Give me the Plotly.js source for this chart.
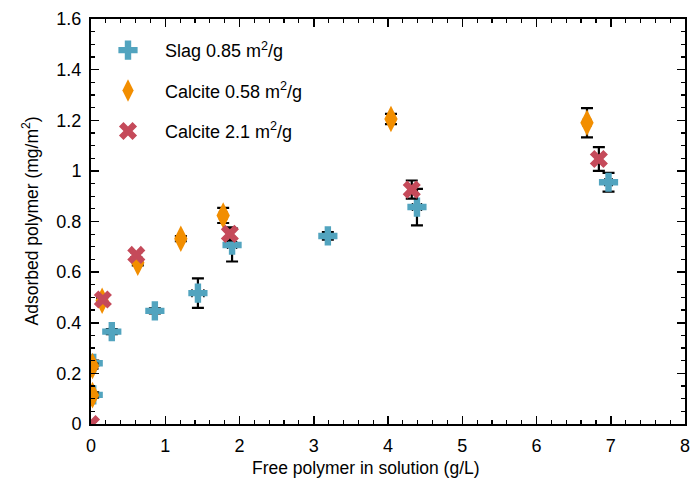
<!DOCTYPE html>
<html><head><meta charset="utf-8">
<script src="https://cdn.plot.ly/plotly-3.0.1.min.js"></script>
<style>html,body{margin:0;padding:0;background:#fff}#chart{width:690px;height:487px}</style>
</head><body><div id="chart"></div>
<script>
// Slag 0.85 m2/g
const slagX = [0.03, 0.03, 0.28, 0.86, 1.44, 1.90, 3.19, 4.39, 6.97];
const slagY = [0.24, 0.115, 0.365, 0.447, 0.517, 0.707, 0.743, 0.857, 0.955];
const slagYErr = [0.01, 0.01, 0.01, 0.01, 0.058, 0.065, 0.015, 0.072, 0.037];
const slagXErr = [0.03, 0.03, 0.03, 0.03, 0.08, 0.06, 0.06, 0.06, 0.05];
// Calcite 0.58 m2/g
const cal58X = [0.02, 0.02, 0.15, 0.63, 1.21, 1.78, 4.04, 6.68];
const cal58Y = [0.229, 0.114, 0.487, 0.637, 0.732, 0.824, 1.205, 1.19];
const cal58YErr = [0.01, 0.01, 0.01, 0.01, 0.01, 0.03, 0.02, 0.058];
const cal58XErr = [0.02, 0.02, 0.02, 0.02, 0.02, 0.05, 0.03, 0.05];
// Calcite 2.1 m2/g
const cal21X = [0.0, 0.16, 0.61, 1.87, 4.32, 6.84];
const cal21Y = [0.0, 0.492, 0.668, 0.751, 0.926, 1.047];
const cal21YErr = [0.01, 0.01, 0.01, 0.026, 0.036, 0.047];
const cal21XErr = [0.02, 0.02, 0.02, 0.03, 0.03, 0.03];
const names = ['Slag 0.85 m<sup>2</sup>/g', 'Calcite 0.58 m<sup>2</sup>/g', 'Calcite 2.1 m<sup>2</sup>/g'];
const xTitle = 'Free polymer in solution (g/L)';
const yTitle = 'Adsorbed polymer (mg/m<sup>2</sup>)';

function tr(x, y, ex, ey, name, sym, color, size, grp) {
  return {
    type: 'scatter', mode: 'markers', x: x, y: y, name: name, legendgroup: grp,
    marker: {symbol: sym, color: color, size: size, line: {width: 0}},
    error_y: {type: 'data', array: ey, visible: true, color: '#000', thickness: 2.2, width: 6},
    error_x: {type: 'data', array: ex, visible: true, color: '#000', thickness: 1.5, width: 4},
    cliponaxis: true
  };
}
const data = [
  tr(slagX, slagY, slagXErr, slagYErr, names[0], 'cross', '#52a4bf', 16, 'a'),
  tr(cal58X, cal58Y, cal58XErr, cal58YErr, names[1], 'diamond-tall', '#f28e00', 19, 'b'),
  tr(cal21X, cal21Y, cal21XErr, cal21YErr, names[2], 'x', '#c54a5a', 16, 'c')
];
const FONT = 'Liberation Sans, Arial, sans-serif';
const axisCommon = {
  showline: true, linecolor: '#000', linewidth: 2, mirror: 'ticks',
  ticks: 'inside', ticklen: 8, tickwidth: 1.5, tickcolor: '#000',
  showgrid: false, zeroline: false, ticklabelstandoff: 4, ticklabeloverflow: 'allow',
  tickfont: {family: FONT, size: 18, color: '#000'}
};
const layout = {
  width: 690, height: 487,
  margin: {l: 91, r: 5, t: 19, b: 63},
  paper_bgcolor: '#fff', plot_bgcolor: '#fff',
  font: {family: FONT, size: 17, color: '#000'},
  showlegend: true,
  legend: {x: 0.0, y: 0.968, xanchor: 'left', yanchor: 'top', bgcolor: 'rgba(0,0,0,0)',
           font: {size: 18}, tracegroupgap: 14, itemwidth: 64},
  xaxis: Object.assign({}, axisCommon, {
    range: [0, 8], dtick: 1, tick0: 0,
    minor: {dtick: 0.2, ticks: 'inside', ticklen: 4, tickwidth: 1.2, tickcolor: '#000'}
  }),
  yaxis: Object.assign({}, axisCommon, {
    range: [0, 1.6], dtick: 0.2, tick0: 0,
    minor: {dtick: 0.05, ticks: 'inside', ticklen: 4, tickwidth: 1.2, tickcolor: '#000'}
  }),
  annotations: [
    {text: xTitle, xref: 'paper', yref: 'paper', x: (366 - 91) / 594, y: -0.108, yanchor: 'middle',
     xanchor: 'center', showarrow: false, font: {family: FONT, size: 17.5, color: '#000'}},
    {text: yTitle, xref: 'paper', yref: 'paper', x: -(91 - 30) / 594, y: 0.5, textangle: -90,
     xanchor: 'center', yanchor: 'middle', showarrow: false, font: {family: FONT, size: 17.5, color: '#000'}}
  ]
};
Plotly.newPlot('chart', data, layout, {displayModeBar: false, staticPlot: true});
</script></body></html>
